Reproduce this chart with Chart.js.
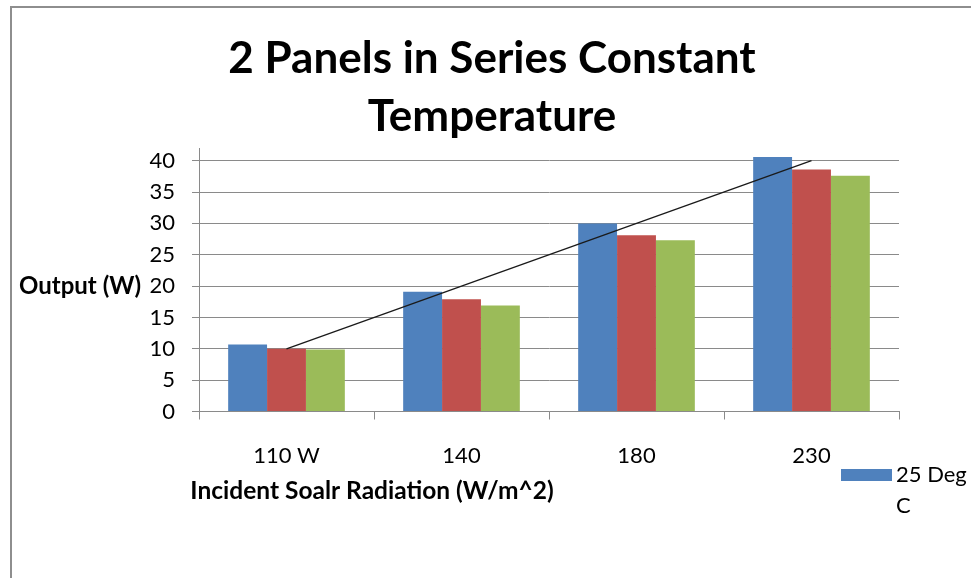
<!DOCTYPE html>
<html>
<head>
<meta charset="utf-8">
<title>2 Panels in Series Constant Temperature</title>
<script src="https://cdn.jsdelivr.net/npm/chart.js@4/dist/chart.umd.min.js"></script>
<style>
  html, body { margin: 0; padding: 0; background: #ffffff; }
  #wrap { width: 971px; height: 578px; }
</style>
</head>
<body>
<div id="wrap"><canvas id="chart" width="971" height="578"></canvas></div>
<script>
// Irradiance categories and measured output (W) per series
const categories = ['110 W', '140', '180', '230'];
const output25Deg = [10.7, 19.1, 30.0, 40.6];
const outputSeries2 = [10.0, 17.9, 28.1, 38.6];
const outputSeries3 = [9.9, 16.9, 27.3, 37.6];
// Linear trend of the 25 Deg C series (end points)
const trendOutput = [10.0, null, null, 40.0];
const yTickValues = [0, 5, 10, 15, 20, 25, 30, 35, 40];

const titleLines = ['2 Panels in Series Constant', 'Temperature'];
const yAxisTitle = 'Output (W)';
const xAxisTitle = 'Incident Soalr Radiation (W/m^2)';
const legendLabel = '25 Deg C';

const BLUE = '#4F81BD', RED = '#C0504D', GREEN = '#9BBB59';
const GRID = '#8a8a8a';
const FONT = 'Lato, "Open Sans", sans-serif';

// Frame, horizontal axis captions and the single-entry legend
const decorations = {
  id: 'decorations',
  beforeDraw(chart) {
    const ctx = chart.ctx;
    ctx.save();
    ctx.strokeStyle = '#8e8e8e';
    ctx.lineWidth = 2;
    ctx.beginPath();
    ctx.moveTo(11, 578);
    ctx.lineTo(11, 7);
    ctx.lineTo(971, 7);
    ctx.stroke();
    ctx.restore();
  },
  afterDraw(chart) {
    const ctx = chart.ctx;
    const y = chart.scales.y;
    ctx.save();
    ctx.fillStyle = '#000';
    ctx.textBaseline = 'middle';
    ctx.font = 'bold 24px ' + FONT;
    ctx.textAlign = 'left';
    ctx.fillText(yAxisTitle, 19, y.getPixelForValue(20));
    ctx.font = 'bold 24.5px ' + FONT;
    ctx.textAlign = 'center';
    ctx.fillText(xAxisTitle, 372, 491);

    // legend: swatch + wrapped label
    const sw = { x: 841, y: 469, w: 51, h: 12 };
    ctx.fillStyle = BLUE;
    ctx.fillRect(sw.x, sw.y, sw.w, sw.h);
    ctx.fillStyle = '#000';
    ctx.font = '22px ' + FONT;
    ctx.textAlign = 'left';
    const words = legendLabel.split(' ');
    const lines = [];
    let cur = '';
    words.forEach(w => {
      const t = cur ? cur + ' ' + w : w;
      if (cur && ctx.measureText(t).width > 74) { lines.push(cur); cur = w; }
      else cur = t;
    });
    if (cur) lines.push(cur);
    lines.forEach((ln, i) => ctx.fillText(ln, 896, 475 + i * 31));
    ctx.restore();
  }
};

new Chart(document.getElementById('chart'), {
  type: 'bar',
  data: {
    labels: categories,
    datasets: [
      { type: 'line', label: 'Linear (25 Deg C)', data: trendOutput, spanGaps: true,
        borderColor: '#1a1a1a', borderWidth: 1.3, pointRadius: 0, fill: false, order: 0 },
      { label: '25 Deg C', data: output25Deg, backgroundColor: BLUE, borderWidth: 0, order: 1 },
      { label: 'Series 2', data: outputSeries2, backgroundColor: RED, borderWidth: 0, order: 1 },
      { label: 'Series 3', data: outputSeries3, backgroundColor: GREEN, borderWidth: 0, order: 1 }
    ]
  },
  options: {
    responsive: false,
    animation: false,
    events: [],
    layout: { padding: { left: 85, right: 72, top: 0, bottom: 0 } },
    datasets: { bar: { categoryPercentage: 2 / 3, barPercentage: 1.0 } },
    plugins: {
      legend: { display: false },
      tooltip: { enabled: false },
      title: {
        display: true,
        text: titleLines,
        color: '#000',
        font: { family: FONT, size: 44, weight: 'bold', lineHeight: 1.32 },
        padding: { top: 30, bottom: 2 }
      }
    },
    scales: {
      x: {
        offset: true,
        grid: { display: true, offset: true, drawOnChartArea: false, drawTicks: true,
                tickLength: 8, color: GRID, lineWidth: 1 },
        border: { display: true, color: GRID, width: 1 },
        ticks: { color: '#000', padding: 23, maxRotation: 0,
                 font: { family: FONT, size: 22 } },
        afterFit(scale) { scale.height = 166.5; }
      },
      y: {
        min: 0,
        max: 42,
        grid: { color: GRID, lineWidth: 1, drawTicks: true, tickLength: 7 },
        border: { display: true, color: GRID, width: 1 },
        ticks: { color: '#000', padding: 17, stepSize: 5,
                 font: { family: FONT, size: 22 } },
        afterBuildTicks(scale) { scale.ticks = yTickValues.map(v => ({ value: v })); },
        afterFit(scale) { scale.width = 114; }
      }
    }
  },
  plugins: [decorations]
});
</script>
</body>
</html>
